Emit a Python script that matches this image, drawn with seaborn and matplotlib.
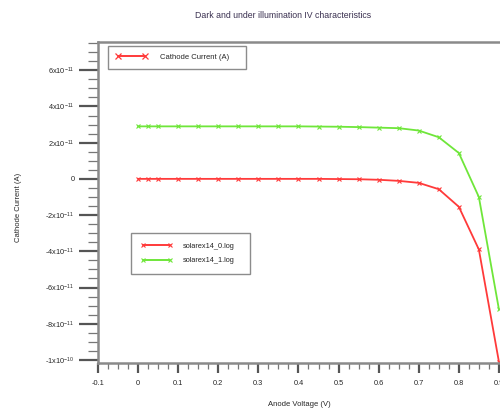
import numpy as np
import pandas as pd
import matplotlib
matplotlib.use("Agg")
import matplotlib.pyplot as plt
from matplotlib.lines import Line2D
from matplotlib.ticker import MultipleLocator
import seaborn as sns

# ---- data ----
voltage = [0.0, 0.025, 0.05, 0.1, 0.15, 0.2, 0.25, 0.3, 0.35, 0.4, 0.45, 0.5,
           0.55, 0.6, 0.65, 0.7, 0.75, 0.8, 0.85, 0.9]
dark_current = [0.0, 0.0, 0.0, 0.0, 0.0, 0.0, 0.0, 0.0, 0.0, 0.0, 0.0, -0.01e-11,
                -0.02e-11, -0.05e-11, -0.11e-11, -0.22e-11, -0.57e-11, -1.54e-11, -3.9e-11, -1.01e-10]
light_current = [2.9e-11, 2.9e-11, 2.9e-11, 2.9e-11, 2.9e-11, 2.9e-11, 2.9e-11, 2.9e-11,
                 2.9e-11, 2.9e-11, 2.89e-11, 2.88e-11, 2.86e-11, 2.83e-11, 2.8e-11,
                 2.67e-11, 2.3e-11, 1.43e-11, -1.0e-11, -7.2e-11]
series_names = ["solarex14_0.log", "solarex14_1.log"]
yticks = [-1e-10, -8e-11, -6e-11, -4e-11, -2e-11, 0, 2e-11, 4e-11, 6e-11]
ytick_labels = ["-1x10$^{-10}$", "-8x10$^{-11}$", "-6x10$^{-11}$", "-4x10$^{-11}$",
                "-2x10$^{-11}$", "0", "2x10$^{-11}$", "4x10$^{-11}$", "6x10$^{-11}$"]
xticks = [-0.1, 0, 0.1, 0.2, 0.3, 0.4, 0.5, 0.6, 0.7, 0.8, 0.9]
xtick_labels = ["-0.1", "0", "0.1", "0.2", "0.3", "0.4", "0.5", "0.6", "0.7", "0.8", "0.9"]

df = pd.DataFrame({
    "Anode Voltage (V)": voltage * 2,
    "Cathode Current (A)": dark_current + light_current,
    "file": [series_names[0]] * len(voltage) + [series_names[1]] * len(voltage),
})

sns.set_style("white")
plt.rcParams["font.family"] = ["Liberation Sans", "DejaVu Sans"]
plt.rcParams["mathtext.fontset"] = "custom"
plt.rcParams["mathtext.rm"] = "Liberation Sans"
plt.rcParams["mathtext.default"] = "regular"

red = "#ff3a3a"
green = "#6fe63a"
colors = {series_names[0]: red, series_names[1]: green}
spine_col = "#8a8a8a"

fig = plt.figure(figsize=(5.0, 4.12), dpi=100)
W, H = 500, 412
left_px, right_px, top_px, bottom_px = 98, 539, 42, 363
ax = fig.add_axes([left_px / W, 1 - bottom_px / H, (right_px - left_px) / W, (bottom_px - top_px) / H])

for name in series_names:
    sub = df[df["file"] == name]
    sns.lineplot(data=sub, x="Anode Voltage (V)", y="Cathode Current (A)",
                 color=colors[name], marker="x", markersize=3.5, markeredgewidth=0.8,
                 markeredgecolor=colors[name], linewidth=1.3, ax=ax, legend=False)

ax.set_xlim(-0.1, 1.0)
ax.set_ylim(-1.017e-10, 7.56e-11)

ax.set_xticks(xticks)
ax.set_xticklabels(xtick_labels)
ax.set_yticks(yticks)
ax.set_yticklabels(ytick_labels)
ax.xaxis.set_minor_locator(MultipleLocator(0.025))
ax.yaxis.set_minor_locator(MultipleLocator(0.5e-11))

ax.tick_params(axis="y", which="major", direction="out", length=14, width=1.6, color="#555555",
               labelsize=5.3, pad=3, left=True)
ax.tick_params(axis="y", which="minor", direction="out", length=7, width=0.9, color="#777777", left=True)
ax.tick_params(axis="x", which="major", direction="out", length=7, width=1.6, color="#555555",
               labelsize=5.3, pad=5, bottom=True)
ax.tick_params(axis="x", which="minor", direction="out", length=4, width=0.9, color="#777777", bottom=True)

for s in ["left", "bottom", "top"]:
    ax.spines[s].set_visible(True)
    ax.spines[s].set_color(spine_col)
    ax.spines[s].set_linewidth(1.8)
ax.spines["right"].set_visible(False)

ax.set_xlabel("Anode Voltage (V)", fontsize=5.5)
ax.xaxis.set_label_coords((299 - left_px) / (right_px - left_px), -(404 - bottom_px) / (bottom_px - top_px))
ax.xaxis.label.set_va("center")
ax.set_ylabel("Cathode Current (A)", fontsize=5.5)
ax.yaxis.set_label_coords(-(left_px - 19) / (right_px - left_px), (363 - 207) / (bottom_px - top_px))
ax.yaxis.label.set_va("center")

fig.text(283 / W, 1 - 15 / H, "Dark and under illumination IV characteristics",
         ha="center", va="center", fontsize=6.3, color="#3a3050")

# legend 1
h1 = Line2D([], [], color=red, marker="x", markersize=4, markeredgewidth=0.9, linewidth=1.4)
leg1 = ax.legend([h1], ["Cathode Current (A)"], loc="upper left", mode="expand",
                 bbox_to_anchor=(108 / W, 1 - 72 / H, 138 / W, 26 / H), bbox_transform=fig.transFigure,
                 borderaxespad=0, fontsize=5.5, frameon=True, fancybox=False,
                 edgecolor="#707070", numpoints=2, handlelength=4.2, handletextpad=1.6,
                 borderpad=1.0, labelspacing=0.3)
leg1.get_frame().set_linewidth(1.0)
ax.add_artist(leg1)

# legend 2
h2 = [Line2D([], [], color=red, marker="x", markersize=3, markeredgewidth=0.8, linewidth=1.4),
      Line2D([], [], color=green, marker="x", markersize=3, markeredgewidth=0.8, linewidth=1.4)]
leg2 = ax.legend(h2, series_names, loc="upper left", mode="expand",
                 bbox_to_anchor=(131 / W, 1 - 272 / H, 119 / W, 39 / H), bbox_transform=fig.transFigure,
                 borderaxespad=0, fontsize=5.3, frameon=True, fancybox=False,
                 edgecolor="#707070", numpoints=2, handlelength=4.3, handletextpad=1.4,
                 borderpad=1.3, labelspacing=1.0)
leg2.get_frame().set_linewidth(1.0)

fig.savefig("out.png", dpi=100)
